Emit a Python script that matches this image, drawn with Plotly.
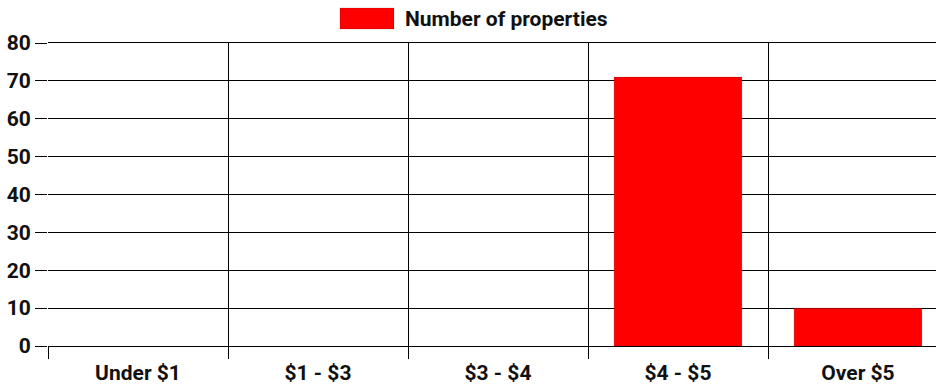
import plotly.graph_objects as go

categories = ["Under $1", "$1 - $3", "$3 - $4", "$4 - $5", "Over $5"]
properties = [0, 0, 0, 71, 10]
series_name = "Number of properties"
y_ticks = [0, 10, 20, 30, 40, 50, 60, 70, 80]

font_main = dict(family="Roboto", size=21, color="#111111", weight="bold")

fig = go.Figure(
    go.Bar(
        x=categories,
        y=properties,
        name=series_name,
        marker=dict(
            color="#ff0000",
            line=dict(color="rgba(0,0,0,0.15)", width=[0 if v == 0 else 1 for v in properties]),
        ),
        showlegend=False,
    )
)

# legend swatch + label drawn at the top centre
fig.add_shape(
    type="rect", xref="paper", yref="paper",
    x0=(340 - 48) / 888, x1=(394 - 48) / 888,
    y0=1 + (43 - 29) / 303, y1=1 + (43 - 8) / 303,
    fillcolor="#ff0000", line=dict(color="rgba(0,0,0,0.15)", width=1),
)
fig.add_annotation(
    text=series_name, xref="paper", yref="paper",
    x=(403 - 48) / 888, y=1 + (43 - 19) / 303,
    xanchor="left", yanchor="middle", showarrow=False, font=font_main,
)

fig.update_layout(
    width=936, height=387,
    margin=dict(l=48, r=0, t=43, b=41),
    paper_bgcolor="white", plot_bgcolor="white",
    bargap=0.29,
    font=font_main,
)
fig.update_xaxes(
    type="category",
    range=[-0.5, 4.5 - 12 / 180],
    tickson="boundaries",
    showgrid=True, gridcolor="#000000", gridwidth=1.3,
    ticks="outside", ticklen=12, tickcolor="#000000", tickwidth=1.3,
    ticklabelstandoff=8,
    showline=True, mirror=True, linecolor="#000000", linewidth=1.3,
    tickfont=font_main,
)
fig.update_yaxes(
    range=[0, 80], tickvals=y_ticks,
    showgrid=True, gridcolor="#000000", gridwidth=1.3,
    zeroline=True, zerolinecolor="#000000", zerolinewidth=1.3,
    ticks="outside", ticklen=12, tickcolor="#000000", tickwidth=1.3,
    showline=False, tickfont=font_main,
)

fig.write_html("out.html")
